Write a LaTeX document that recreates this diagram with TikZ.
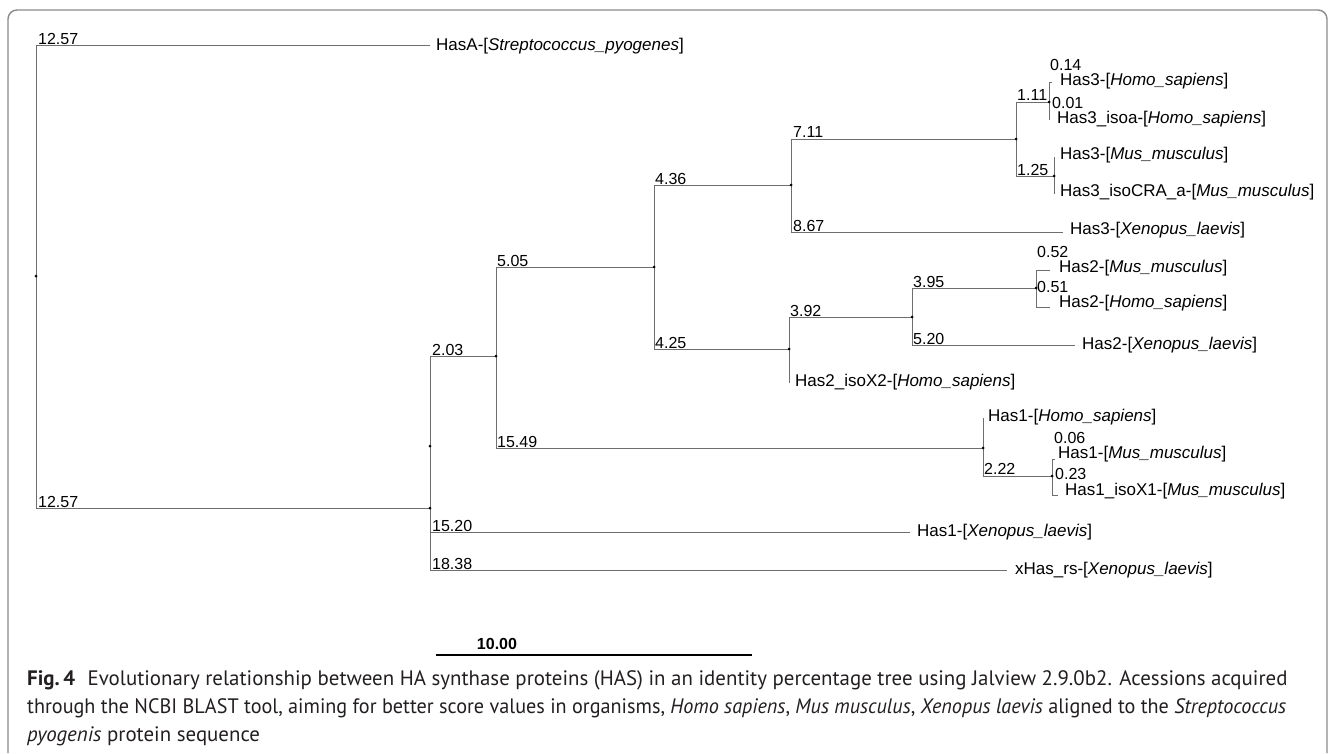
\documentclass[tikz,border=0pt]{standalone}
\usepackage{fontspec}
\setmainfont{Liberation Sans}
\newfontfamily\capfont{PT Sans}
\definecolor{treegray}{HTML}{6E6E6E}
\definecolor{framegray}{HTML}{8A8A8A}
\definecolor{captext}{HTML}{231F20}
\begin{document}
\begin{tikzpicture}[x=1pt,y=-1pt,
  br/.style={draw=treegray, line width=0.9pt},
  num/.style={anchor=base west, inner sep=0pt, font=\fontsize{16}{16}\selectfont},
  leaf/.style={anchor=base west, inner sep=0pt, font=\fontsize{17}{17}\selectfont},
  nd/.style={circle, fill=black, inner sep=0pt, minimum size=3pt},
  captxt/.style={anchor=base west, inner sep=0pt, text=captext, font=\capfont\fontsize{20.9}{20.9}\selectfont}]
\useasboundingbox (0,0) rectangle (1330,753);
% frame
\draw[framegray, line width=1.4pt, rounded corners=9pt] (8,753) -- (8,10) -- (1327,10) -- (1327,753);

% internal nodes
\coordinate (root) at (36,276);
\coordinate (a) at (430,508);
\coordinate (b) at (430,446);
\coordinate (c) at (496,356);
\coordinate (d) at (654,267);
\coordinate (e) at (791,185);
\coordinate (f) at (1016,139);
\coordinate (g) at (1049,102);
\coordinate (h) at (1054,176);
\coordinate (i) at (789,349);
\coordinate (j) at (912,317);
\coordinate (k) at (1036,288);
\coordinate (l) at (983,448);
\coordinate (m) at (1052,476);

% leaf ends
\coordinate (eHasA) at (430,45);
\coordinate (eH3Hs) at (1052,82);
\coordinate (eH3isoa) at (1049,120);
\coordinate (eH3Mm) at (1054,157);
\coordinate (eH3cra) at (1054,194);
\coordinate (eH3Xl) at (1063,232);
\coordinate (eH2Mm) at (1050,270);
\coordinate (eH2Hs) at (1050,307);
\coordinate (eH2Xl) at (1075,345);
\coordinate (eH2x2) at (789,383);
\coordinate (eH1Hs) at (983,418);
\coordinate (eH1Mm) at (1055,459);
\coordinate (eH1x1) at (1058,495);
\coordinate (eH1Xl) at (910,532);
\coordinate (exHas) at (1007,570);

% branches
\draw[br] (root) |- (eHasA);
\draw[br] (root) |- (a);
\draw[br] (a) |- (b);
\draw[br] (a) |- (exHas);
\draw[br] (b) |- (c);
\draw[br] (b) |- (eH1Xl);
\draw[br] (c) |- (d);
\draw[br] (c) |- (l);
\draw[br] (d) |- (e);
\draw[br] (d) |- (i);
\draw[br] (e) |- (f);
\draw[br] (e) |- (eH3Xl);
\draw[br] (f) |- (g);
\draw[br] (f) |- (h);
\draw[br] (g) |- (eH3Hs);
\draw[br] (g) |- (eH3isoa);
\draw[br] (h) |- (eH3Mm);
\draw[br] (h) |- (eH3cra);
\draw[br] (i) |- (j);
\draw[br] (i) |- (eH2x2);
\draw[br] (j) |- (k);
\draw[br] (j) |- (eH2Xl);
\draw[br] (k) |- (eH2Mm);
\draw[br] (k) |- (eH2Hs);
\draw[br] (l) |- (eH1Hs);
\draw[br] (l) |- (m);
\draw[br] (m) |- (eH1Mm);
\draw[br] (m) |- (eH1x1);

% node dots
\foreach \p in {root,a,b,c,d,e,f,g,h,i,j,k,l,m} \node[nd] at (\p) {};

% branch lengths
\node[num] (n1) at (38,44) {12.57};
\node[num] (n2) at (38,507) {12.57};
\node[num] (n3) at (432,355) {2.03};
\node[num] (n4) at (432,531) {15.20};
\node[num] (n5) at (432,569) {18.38};
\node[num] (n6) at (497,266) {5.05};
\node[num] (n7) at (497,447) {15.49};
\node[num] (n8) at (655,184) {4.36};
\node[num] (n9) at (655,348) {4.25};
\node[num] (n10) at (793,137) {7.11};
\node[num] (n11) at (793,231) {8.67};
\node[num] (n12) at (790,316) {3.92};
\node[num] (n13) at (913,287) {3.95};
\node[num] (n14) at (913,344) {5.20};
\node[num] (n15) at (1017,100) {1.11};
\node[num] (n16) at (1017,175) {1.25};
\node[num] (n17) at (1050,70) {0.14};
\node[num] (n18) at (1052,108) {0.01};
\node[num] (n19) at (1037,257) {0.52};
\node[num] (n20) at (1037,292) {0.51};
\node[num] (n21) at (984,474) {2.22};
\node[num] (n22) at (1054,443) {0.06};
\node[num] (n23) at (1055,479) {0.23};

% leaf names
\node[leaf] (HasA) at (436,50) {HasA-[\textit{Streptococcus\_pyogenes}]};
\node[leaf] (H3Hs) at (1060,85) {Has3-[\textit{Homo\_sapiens}]};
\node[leaf] (H3isoa) at (1057,123) {Has3\_isoa-[\textit{Homo\_sapiens}]};
\node[leaf] (H3Mm) at (1060,159) {Has3-[\textit{Mus\_musculus}]};
\node[leaf] (H3cra) at (1060,196) {Has3\_isoCRA\_a-[\textit{Mus\_musculus}]};
\node[leaf] (H3Xl) at (1070,234) {Has3-[\textit{Xenopus\_laevis}]};
\node[leaf] (H2Mm) at (1059,272) {Has2-[\textit{Mus\_musculus}]};
\node[leaf] (H2Hs) at (1059,307) {Has2-[\textit{Homo\_sapiens}]};
\node[leaf] (H2Xl) at (1082,349) {Has2-[\textit{Xenopus\_laevis}]};
\node[leaf] (H2x2) at (795,386) {Has2\_isoX2-[\textit{Homo\_sapiens}]};
\node[leaf] (H1Hs) at (988,421) {Has1-[\textit{Homo\_sapiens}]};
\node[leaf] (H1Mm) at (1058,458) {Has1-[\textit{Mus\_musculus}]};
\node[leaf] (H1x1) at (1065,495) {Has1\_isoX1-[\textit{Mus\_musculus}]};
\node[leaf] (H1Xl) at (917,536) {Has1-[\textit{Xenopus\_laevis}]};
\node[leaf] (xHas) at (1015,574) {xHas\_rs-[\textit{Xenopus\_laevis}]};

% scale bar
\coordinate (sb1) at (436,655);
\coordinate (sb2) at (752,655);
\draw[black, line width=1.1pt] (sb1) -- (sb2);
\node[anchor=base, inner sep=0pt, font=\bfseries\fontsize{16}{16}\selectfont] (sbl) at (497,649) {10.00};

% caption
\node[captxt] (cap1) at (27,685) {\textbf{Fig.\,4}\hspace{0.6em}Evolutionary relationship between HA synthase proteins (HAS) in an identity percentage tree using Jalview 2.9.0b2. Acessions acquired};
\node[captxt] (cap2) at (27,713) {\scalebox{0.966}[1]{through the NCBI BLAST tool, aiming for better score values in organisms, \textit{Homo sapiens}, \textit{Mus musculus}, \textit{Xenopus laevis} aligned to the \textit{Streptococcus}}};
\node[captxt] (cap3) at (27,741) {\textit{pyogenis} protein sequence};
\end{tikzpicture}
\end{document}
